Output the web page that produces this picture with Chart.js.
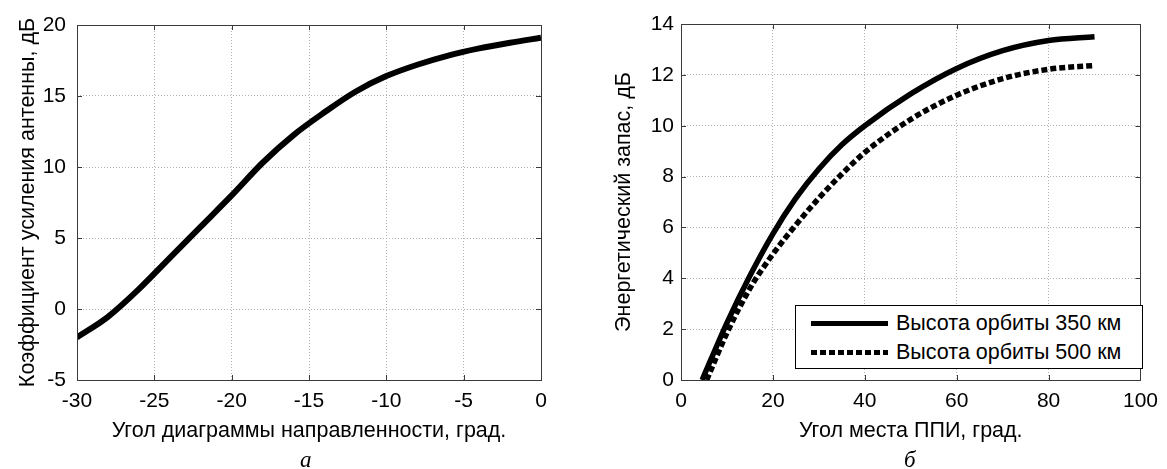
<!DOCTYPE html>
<html>
<head>
<meta charset="utf-8">
<script src="https://cdn.jsdelivr.net/npm/chart.js@4.4.1/dist/chart.umd.min.js"></script>
<style>
body { margin: 0; background: #fff; width: 1167px; height: 469px; position: relative; overflow: hidden; font-family: 'Liberation Sans', Arial, sans-serif; }
#grafico_a { position: absolute; left: 0; top: 0; }
#grafico_b { position: absolute; left: 583px; top: 0; }
.cap { position: absolute; top: 448px; font-family: 'Liberation Serif', 'Times New Roman', serif; font-style: italic; font-size: 23px; line-height: 23px; color: #000; }
.legenda { position: absolute; left: 795px; top: 305px; width: 346px; height: 62px; border: 1px solid #000; background: #fff; }
.legenda .amostra { position: absolute; left: 15px; width: 77px; height: 5px; }
.legenda .txt { position: absolute; left: 100px; font-size: 21.5px; line-height: 26px; color: #000; white-space: nowrap; }
</style>
</head>
<body>
<canvas id="grafico_a" width="583" height="469"></canvas>
<canvas id="grafico_b" width="584" height="469"></canvas>
<div class="cap" style="left:300px">а</div>
<div class="cap" style="left:904px">б</div>
<div class="legenda">
  <div class="amostra" style="top:15px;background:#000"></div>
  <div class="txt" style="top:4px">Высота орбиты 350 км</div>
  <div class="amostra" style="top:44px;background:repeating-linear-gradient(to right,#000 0 6px,transparent 6px 9px)"></div>
  <div class="txt" style="top:33px">Высота орбиты 500 км</div>
</div>
<script>
// (а) коэффициент усиления антенны
const anguloDiagrama = [-30, -28, -26, -24, -22, -20, -18, -16, -14, -12, -10, -8, -6, -4, -2, 0]
const ganhoAntena = [-2.0, -0.55, 1.4, 3.6, 5.8, 8.0, 10.3, 12.25, 13.85, 15.3, 16.4, 17.2, 17.85, 18.35, 18.75, 19.1]

// (б) энергетический запас
const elev350 = [4.6, 10, 15, 20, 25, 30, 35, 40, 50, 60, 70, 80, 90]
const margem350 = [0, 2.25, 4.1, 5.75, 7.15, 8.3, 9.25, 10.0, 11.25, 12.25, 12.95, 13.35, 13.5]
const elev500 = [5.6, 10, 15, 20, 25, 30, 35, 40, 50, 60, 70, 80, 90]
const margem500 = [0, 1.85, 3.6, 4.95, 6.1, 7.15, 8.1, 8.95, 10.25, 11.2, 11.85, 12.22, 12.37]

const tituloX_a = 'Угол диаграммы направленности, град.'
const tituloY_a = 'Коэффициент усиления антенны, дБ'
const tituloX_b = 'Угол места ППИ, град.'
const tituloY_b = 'Энергетический запас, дБ'

Chart.defaults.font.family = "'Liberation Sans', Arial, sans-serif"
Chart.defaults.color = '#000'

const pontos = (xs, ys) => xs.map((v, i) => ({ x: v, y: ys[i] }))

// caixa do eixo com marcas para dentro (estilo MATLAB)
const moldura = {
  id: 'moldura',
  afterDraw(chart) {
    const { ctx, chartArea: a, scales: { x, y } } = chart
    ctx.save()
    ctx.strokeStyle = '#3a3a3a'
    ctx.lineWidth = 1
    ctx.beginPath()
    x.ticks.forEach(t => {
      const px = Math.round(x.getPixelForValue(t.value)) + 0.5
      ctx.moveTo(px, a.bottom); ctx.lineTo(px, a.bottom - 5)
      ctx.moveTo(px, a.top); ctx.lineTo(px, a.top + 5)
    })
    y.ticks.forEach(t => {
      const py = Math.round(y.getPixelForValue(t.value)) + 0.5
      ctx.moveTo(a.left, py); ctx.lineTo(a.left + 5, py)
      ctx.moveTo(a.right, py); ctx.lineTo(a.right - 5, py)
    })
    ctx.stroke()
    ctx.strokeRect(Math.round(a.left) + 0.5, Math.round(a.top) + 0.5, Math.round(a.width), Math.round(a.height))
    ctx.restore()
  }
}

function eixos(xMin, xMax, xStep, yMin, yMax, yStep, tx, ty, larguraY, padTituloY, padTicksY) {
  const grade = { color: '#b4b4b4', lineWidth: 1, drawTicks: false }
  const borda = { display: false, dash: [1, 2] }
  return {
    x: {
      type: 'linear', min: xMin, max: xMax,
      ticks: { stepSize: xStep, font: { size: 21 }, padding: 9, maxRotation: 0 },
      grid: grade, border: borda,
      title: { display: true, text: tx, font: { size: 21.5 }, padding: { top: 0, bottom: 25 } },
      afterFit: s => { s.height = 89 }
    },
    y: {
      type: 'linear', min: yMin, max: yMax,
      ticks: { stepSize: yStep, font: { size: 21 }, padding: padTicksY },
      grid: grade, border: borda,
      title: { display: true, text: ty, font: { size: 21.5 }, padding: { top: padTituloY, bottom: 0 } },
      afterFit: s => { s.width = larguraY }
    }
  }
}

const opcoesBase = {
  responsive: false,
  animation: false,
  plugins: { legend: { display: false }, tooltip: { enabled: false } },
  elements: { point: { radius: 0 } }
}

new Chart(document.getElementById('grafico_a'), {
  type: 'scatter',
  data: {
    datasets: [{
      data: pontos(anguloDiagrama, ganhoAntena),
      showLine: true,
      borderColor: '#000',
      borderWidth: 6,
      cubicInterpolationMode: 'monotone',
      borderCapStyle: 'butt'
    }]
  },
  options: {
    ...opcoesBase,
    layout: { padding: { top: 25, right: 42, left: 0, bottom: 0 } },
    scales: eixos(-30, 0, 5, -5, 20, 5, tituloX_a, tituloY_a, 77, 15, 11)
  },
  plugins: [moldura]
})

new Chart(document.getElementById('grafico_b'), {
  type: 'scatter',
  data: {
    datasets: [{
      label: 'Высота орбиты 350 км',
      data: pontos(elev350, margem350),
      showLine: true,
      borderColor: '#000',
      borderWidth: 5.5,
      cubicInterpolationMode: 'monotone',
      borderCapStyle: 'butt'
    }, {
      label: 'Высота орбиты 500 км',
      data: pontos(elev500, margem500),
      showLine: true,
      borderColor: '#000',
      borderWidth: 5.5,
      borderDash: [6, 3],
      cubicInterpolationMode: 'monotone',
      borderCapStyle: 'butt'
    }]
  },
  options: {
    ...opcoesBase,
    layout: { padding: { top: 24, right: 20, left: 0, bottom: 0 } },
    scales: eixos(0, 100, 20, 0, 14, 2, tituloX_b, tituloY_b, 98, 28, 7)
  },
  plugins: [moldura]
})
</script>
</body>
</html>
